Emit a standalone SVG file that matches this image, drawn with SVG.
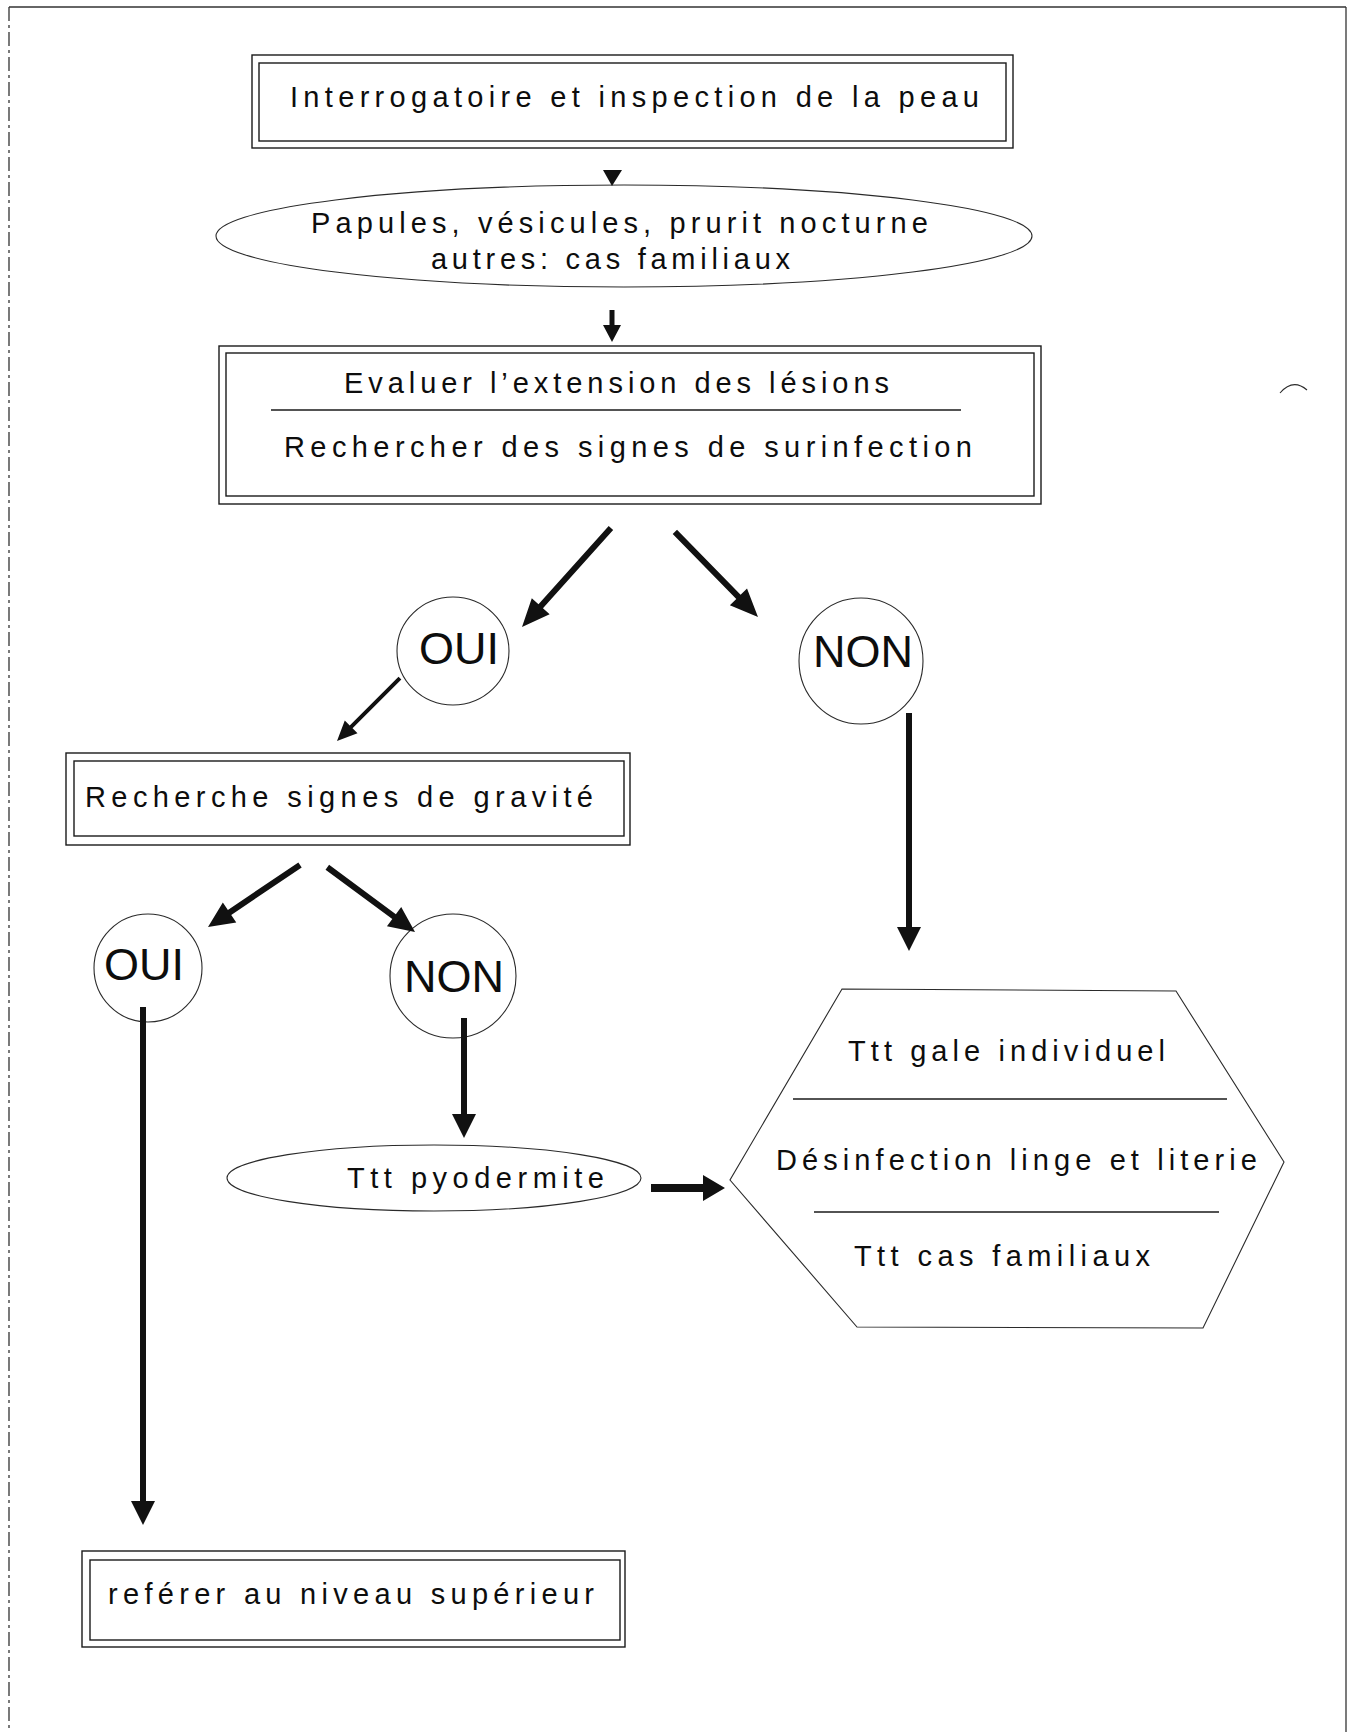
<svg xmlns="http://www.w3.org/2000/svg" width="1350" height="1732" viewBox="0 0 1350 1732">
<style>
.bg{fill:#ffffff}
.frame{fill:none;stroke:#333;stroke-width:1.3}
.box{fill:none;stroke:#1a1a1a;stroke-width:1.4}
.thin{fill:none;stroke:#2a2a2a;stroke-width:1.1}
.rule{stroke:#1a1a1a;stroke-width:1.3}
.t{font-family:"Liberation Sans",Arial,Helvetica,sans-serif;font-size:29px;fill:#0d0d0d}
.big{font-size:45px}
.arr{fill:#111}
</style>
<rect class="bg" x="0" y="0" width="1350" height="1732"/>
<g id="page-frame">
  <line class="frame" x1="9" y1="7" x2="1346" y2="7"/>
  <line class="frame" x1="1346" y1="7" x2="1346" y2="1732"/>
  <line class="frame" x1="9" y1="7" x2="9" y2="1732" stroke-dasharray="14 4 3 4"/>
  <path class="thin" d="M1280,393 Q1293,378 1307,390"/>
</g>
<g id="n-interrogatoire">
  <rect class="box" x="252" y="55" width="761" height="93"/>
  <rect class="box" x="259" y="63" width="747" height="78"/>
  <text class="t" x="290" y="107" textLength="689" lengthAdjust="spacing">Interrogatoire et inspection de la peau</text>
</g>
<g id="n-papules">
  <ellipse class="thin" cx="624" cy="236" rx="408" ry="51"/>
  <text class="t" x="311" y="233" textLength="617" lengthAdjust="spacing">Papules, vésicules, prurit nocturne</text>
  <text class="t" x="431" y="269" textLength="359" lengthAdjust="spacing">autres: cas familiaux</text>
</g>
<g id="n-evaluer">
  <rect class="box" x="219" y="346" width="822" height="158"/>
  <rect class="box" x="226" y="353" width="808" height="143"/>
  <line class="rule" x1="271" y1="410" x2="961" y2="410"/>
  <text class="t" x="344" y="393" textLength="545" lengthAdjust="spacing">Evaluer l’extension des lésions</text>
  <text class="t" x="284" y="457" textLength="688" lengthAdjust="spacing">Rechercher des signes de surinfection</text>
</g>
<g id="n-oui1">
  <ellipse class="thin" cx="453" cy="651" rx="56" ry="54"/>
  <text class="t big" x="419" y="664">OUI</text>
</g>
<g id="n-non1">
  <ellipse class="thin" cx="861" cy="661" rx="62" ry="63"/>
  <text class="t big" x="813" y="667">NON</text>
</g>
<g id="n-gravite">
  <rect class="box" x="66" y="753" width="564" height="92"/>
  <rect class="box" x="74" y="761" width="550" height="75"/>
  <text class="t" x="85" y="807" textLength="508" lengthAdjust="spacing">Recherche signes de gravité</text>
</g>
<g id="n-oui2">
  <ellipse class="thin" cx="148" cy="968" rx="54" ry="54"/>
  <text class="t big" x="104" y="980">OUI</text>
</g>
<g id="n-non2">
  <ellipse class="thin" cx="453" cy="976" rx="63" ry="62"/>
  <text class="t big" x="404" y="992">NON</text>
</g>
<g id="n-pyodermite">
  <ellipse class="thin" cx="434" cy="1178" rx="207" ry="33"/>
  <text class="t" x="347" y="1188" textLength="257" lengthAdjust="spacing">Ttt pyodermite</text>
</g>
<g id="n-traitement">
  <polygon class="thin" points="842,989 1176,991 1284,1162 1203,1328 857,1327 730,1180"/>
  <line class="rule" x1="793" y1="1099" x2="1227" y2="1099"/>
  <line class="rule" x1="814" y1="1212" x2="1219" y2="1212"/>
  <text class="t" x="848" y="1061" textLength="317" lengthAdjust="spacing">Ttt gale individuel</text>
  <text class="t" x="776" y="1170" textLength="481" lengthAdjust="spacing">Désinfection linge et literie</text>
  <text class="t" x="854" y="1266" textLength="296" lengthAdjust="spacing">Ttt cas familiaux</text>
</g>
<g id="n-referer">
  <rect class="box" x="82" y="1551" width="543" height="96"/>
  <rect class="box" x="90" y="1560" width="530" height="80"/>
  <text class="t" x="108" y="1604" textLength="486" lengthAdjust="spacing">reférer au niveau supérieur</text>
</g>
<g id="connectors" class="arr">
  <polygon points="603,170 622,170 612,186"/>
  <path transform="translate(612,342) rotate(90)" d="M-32,-2.5H-17V-9L0,0L-17,9V2.5H-32Z"/>
  <path transform="translate(522,627) rotate(131.96)" d="M-133,-3H-28V-12L0,0L-28,12V3H-133Z"/>
  <path transform="translate(758,617) rotate(45.68)" d="M-119,-3H-28V-12L0,0L-28,12V3H-119Z"/>
  <path transform="translate(337,741) rotate(135)" d="M-89,-2H-20V-9L0,0L-20,9V2H-89Z"/>
  <path transform="translate(208,927) rotate(146)" d="M-111,-3H-26V-12L0,0L-26,12V3H-111Z"/>
  <path transform="translate(415,932) rotate(36.44)" d="M-109,-3H-26V-12L0,0L-26,12V3H-109Z"/>
  <path transform="translate(909,951) rotate(90)" d="M-238,-3H-24V-12L0,0L-24,12V3H-238Z"/>
  <path transform="translate(464,1138) rotate(90)" d="M-120,-3H-24V-12L0,0L-24,12V3H-120Z"/>
  <path transform="translate(143,1525) rotate(90)" d="M-518,-3H-24V-12L0,0L-24,12V3H-518Z"/>
  <path transform="translate(725,1188)" d="M-74,-4H-22V-13L0,0L-22,13V4H-74Z"/>
</g>
</svg>
